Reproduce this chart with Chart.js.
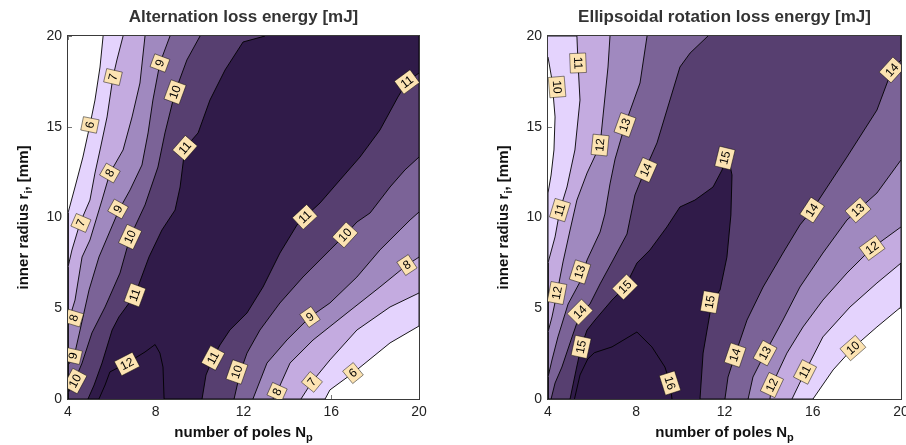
<!DOCTYPE html>
<html>
<head>
<meta charset="utf-8">
<script src="https://cdn.jsdelivr.net/npm/chart.js@4.4.1/dist/chart.umd.min.js"></script>
<style>
  body { margin: 0; background: #fff; width: 906px; height: 445px; overflow: hidden; }
  canvas { position: absolute; top: 0; }
  #altChart { left: 0; }
  #rotChart { left: 453px; }
</style>
</head>
<body>
<canvas id="altChart" width="453" height="445"></canvas>
<canvas id="rotChart" width="453" height="445"></canvas>
<script>
(() => {
  'use strict'

  const npTicks = [4, 8, 12, 16, 20]
  const riTicks = [0, 5, 10, 15, 20]
  const bandColors = ['#E4D3FD', '#C4ABE0', '#A089BF', '#7B6397', '#573F70', '#301B49', '#301B49']

  // Alternation loss energy: contour lines as [Np, ri] pairs
  // "a" = upper-left branch (top -> bottom), "b" = lower-right branch (right edge -> bottom)
  const altLevels = [6, 7, 8, 9, 10, 11, 12]
  const alt6a = [[5.60, 20], [5.46, 18.29], [5.23, 16.47], [5.00, 15.10], [4.68, 13.33], [4.32, 11.68], [4.00, 10.25]]
  const alt6b = [[20, 4.02], [18.68, 3.09], [16.99, 1.43], [15.94, 0.50], [15.72, 0]]
  const alt7a = [[6.51, 20], [6.23, 18.68], [6.05, 17.74], [5.78, 15.54], [5.46, 13.72], [5.23, 12.45], [5.00, 10.96], [4.55, 9.70], [4.18, 8.21], [4.00, 7.27]]
  const alt7b = [[20, 5.84], [18.68, 5.07], [17.17, 3.80], [15.94, 2.15], [15.12, 0.94], [14.62, 0]]
  const alt8a = [[7.51, 20], [7.28, 17.41], [6.92, 15.54], [6.51, 13.72], [5.91, 12.45], [5.55, 10.96], [5.00, 8.76], [4.64, 7.82], [4.32, 5.45], [4.00, 4.19]]
  const alt8b = [[20, 7.82], [19.45, 7.38], [18.22, 6.17], [16.72, 4.74], [15.17, 3.25], [14.12, 1.98], [13.53, 0.39], [13.34, 0]]
  const alt9a = [[8.65, 20], [8.19, 18.51], [7.87, 16.47], [7.65, 14.66], [7.37, 12.89], [6.83, 11.52], [6.32, 10.41], [5.41, 7.82], [4.96, 6.01], [4.55, 3.80], [4.27, 2.31], [4.00, 1.87]]
  const alt9b = [[20, 10.30], [19.59, 9.86], [18.22, 8.21], [17.17, 6.72], [15.94, 5.29], [15.03, 4.52], [13.98, 3.25], [13.07, 1.98], [12.43, 0]]
  const alt10a = [[10.02, 20], [9.42, 18.68], [8.88, 16.91], [8.42, 14.66], [8.10, 12.78], [7.51, 10.69], [6.83, 8.93], [6.37, 6.94], [5.69, 5.07], [5.09, 3.64], [4.64, 1.98], [4.32, 1.05], [4.00, 0.33]]
  const alt10b = [[20, 13.33], [19.36, 12.62], [18.68, 11.68], [17.77, 10.25], [17.17, 9.75], [16.63, 9.04], [15.94, 8.21], [14.71, 6.72], [13.66, 5.29], [12.75, 3.80], [12.16, 2.53], [11.84, 1.43], [11.57, 0]]
  const alt11a = [[12.98, 20], [11.98, 19.67], [11.16, 18.13], [10.47, 16.47], [9.93, 14.66], [9.33, 13.83], [9.11, 11.68], [8.88, 10.41], [8.28, 9.31], [7.69, 7.82], [7.05, 5.73], [6.32, 4.52], [6.01, 3.80], [5.55, 1.98], [5.19, 0.77], [4.91, 0]]
  const alt11b = [[20, 17.96], [19.45, 17.47], [19.04, 16.64], [18.22, 14.82], [17.31, 13.33], [16.40, 12.07], [15.49, 10.80], [14.80, 10.03], [14.44, 9.59], [13.66, 8.04], [12.89, 6.17], [12.16, 4.74], [11.38, 3.80], [10.93, 2.98], [10.61, 2.26], [10.29, 1.32], [10.11, 0]]
  const alt12a = [[5.41, 0], [5.69, 0.77], [5.91, 1.49], [6.69, 1.98], [7.51, 2.59], [7.97, 3.00], [8.19, 2.53], [8.33, 1.76], [8.38, 0]]
  // contour labels: [level, Np, ri]
  const altLabels = [
    [7, 6.05, 17.74], [9, 8.19, 18.51], [10, 8.88, 16.91], [6, 5.00, 15.10], [11, 9.33, 13.83],
    [8, 5.91, 12.45], [9, 6.28, 10.47], [7, 4.59, 9.70], [10, 6.83, 8.93], [11, 7.05, 5.73],
    [8, 4.27, 4.46], [9, 4.23, 2.37], [10, 4.32, 0.99], [12, 6.69, 1.93], [11, 19.45, 17.47],
    [11, 14.80, 10.03], [10, 16.63, 9.04], [8, 19.45, 7.38], [9, 15.03, 4.52], [11, 10.61, 2.26],
    [10, 11.70, 1.49], [6, 16.99, 1.43], [7, 15.12, 0.94], [8, 13.53, 0.39]
  ]

  // Ellipsoidal rotation loss energy
  const rotLevels = [10, 11, 12, 13, 14, 15, 16]
  const rot10a = [[4.00, 18.84], [4.18, 17.58], [4.32, 15.54], [4.27, 13.72], [4.14, 12.34], [4.00, 11.35]]
  const rot10b = [[20, 5.07], [18.91, 3.97], [17.82, 2.81], [16.92, 1.60], [16.01, 0]]
  const rot11a = [[5.31, 20], [5.36, 18.51], [5.45, 16.47], [5.22, 13.72], [4.86, 11.68], [4.54, 10.41], [4.32, 8.93], [4.00, 7.50]]
  const rot11b = [[20, 7.49], [18.91, 6.39], [17.69, 5.07], [16.46, 3.42], [15.65, 1.49], [15.06, 0]]
  const rot12a = [[6.81, 20], [6.72, 18.29], [6.49, 15.54], [6.36, 13.99], [5.77, 12.45], [5.31, 10.96], [5.00, 9.31], [4.68, 7.55], [4.41, 5.84], [4.18, 4.52], [4.00, 3.69]]
  const rot12b = [[20, 9.48], [18.69, 8.32], [17.55, 6.94], [16.46, 5.45], [15.56, 3.97], [14.83, 2.53], [14.15, 0.77], [14.06, 0]]
  const rot13a = [[8.49, 20], [8.17, 17.41], [7.49, 15.10], [7.04, 13.22], [6.81, 11.85], [6.58, 10.19], [6.36, 9.20], [5.77, 7.66], [5.45, 6.45], [4.91, 5.23], [4.45, 3.42], [4.18, 2.15], [4.00, 1.21]]
  const rot13b = [[20, 13.17], [18.91, 11.35], [18.05, 10.41], [17.55, 9.86], [16.46, 8.04], [15.42, 6.17], [14.65, 4.35], [13.84, 2.53], [13.29, 1.21], [13.07, 0]]
  const rot14a = [[11.25, 20], [10.44, 19.06], [9.98, 18.29], [9.39, 15.92], [8.94, 14.11], [8.40, 12.62], [7.94, 11.24], [7.58, 9.09], [6.95, 7.66], [6.36, 6.34], [5.90, 5.23], [5.45, 4.68], [5.09, 3.42], [4.63, 1.76], [4.32, 0.88], [4.14, 0]]
  const rot14b = [[20, 18.68], [19.59, 18.13], [18.91, 15.92], [17.55, 13.33], [15.97, 10.41], [15.42, 9.59], [14.65, 8.04], [13.75, 6.17], [13.02, 4.35], [12.48, 2.42], [12.16, 1.21], [12.02, 0]]
  const rot15a = [[5.00, 0], [5.15, 0.88], [5.30, 1.76], [5.50, 2.87], [5.77, 3.80], [6.13, 4.35], [6.90, 5.45], [7.49, 6.17], [8.03, 7.49], [8.62, 8.21], [9.39, 9.48], [9.98, 10.58], [10.66, 10.96], [11.48, 11.68], [11.89, 12.62], [12.11, 13.72], [12.34, 12.34], [12.29, 10.14], [12.11, 7.82], [11.80, 6.01], [11.43, 5.34], [11.21, 3.80], [11.03, 2.53], [10.89, 0]]
  const rot16a = [[5.20, 0], [5.45, 1.32], [5.80, 2.20], [6.10, 2.55], [6.90, 2.87], [8.03, 3.69], [8.71, 2.87], [9.30, 1.76], [9.53, 0.88], [9.62, 0]]
  const rotLabels = [
    [11, 5.36, 18.51], [10, 4.41, 17.19], [13, 7.49, 15.10], [12, 6.36, 13.99], [14, 8.44, 12.62],
    [11, 4.54, 10.41], [13, 5.45, 7.00], [12, 4.41, 5.84], [14, 5.45, 4.79], [15, 5.50, 2.87],
    [15, 7.49, 6.17], [15, 12.02, 13.28], [16, 9.53, 0.88], [14, 19.59, 18.13], [14, 15.97, 10.41],
    [13, 18.05, 10.41], [12, 18.69, 8.32], [15, 11.34, 5.34], [14, 12.48, 2.42], [13, 13.84, 2.53],
    [12, 14.15, 0.77], [11, 15.65, 1.49], [10, 17.82, 2.81]
  ]

  const npMin = npTicks[0], npMax = npTicks[npTicks.length - 1]
  const riMin = riTicks[0], riMax = riTicks[riTicks.length - 1]
  const FONT = '"Liberation Sans", Arial, Helvetica, sans-serif'
  Chart.defaults.font.family = FONT

  // closed region "value >= level" from its two contour branches and the plot edges
  function region(upper, lower) {
    if (!lower) return upper
    const pts = upper.slice()
    const end = upper[upper.length - 1]
    if (end[0] === npMin && end[1] > riMin) pts.push([npMin, riMin])
    return pts.concat(lower.slice().reverse(), [[npMax, riMax]])
  }

  const altRings = [
    region(alt6a, alt6b), region(alt7a, alt7b), region(alt8a, alt8b), region(alt9a, alt9b),
    region(alt10a, alt10b), region(alt11a, alt11b), region(alt12a)
  ]
  const altCurves = {6: [alt6a, alt6b], 7: [alt7a, alt7b], 8: [alt8a, alt8b], 9: [alt9a, alt9b], 10: [alt10a, alt10b], 11: [alt11a, alt11b], 12: [alt12a]}

  const rot10Ring = [[npMin, riMax], [npMax, riMax]].concat(rot10b, [[npMin, riMin]], rot10a.slice().reverse())
  const rotRings = [
    rot10Ring, region(rot11a, rot11b), region(rot12a, rot12b), region(rot13a, rot13b),
    region(rot14a, rot14b), region(rot15a), region(rot16a)
  ]
  const rotCurves = {10: [rot10a, rot10b], 11: [rot11a, rot11b], 12: [rot12a, rot12b], 13: [rot13a, rot13b], 14: [rot14a, rot14b], 15: [rot15a], 16: [rot16a]}

  function contourDatasets(rings, levels) {
    return rings.map((ring, i) => ({
      label: '>= ' + levels[i],
      data: ring.map(([np, ri]) => ({x: np, y: ri})),
      backgroundColor: bandColors[i],
      borderColor: '#000',
      borderWidth: 0.9,
      fill: 'shape',
      pointRadius: 0,
      tension: 0,
      order: rings.length - i
    }))
  }

  function segDist(px, py, x1, y1, x2, y2) {
    const dx = x2 - x1, dy = y2 - y1
    const len = dx * dx + dy * dy
    let t = len ? ((px - x1) * dx + (py - y1) * dy) / len : 0
    t = Math.max(0, Math.min(1, t))
    return Math.hypot(px - (x1 + t * dx), py - (y1 + t * dy))
  }

  // direction of the nearest contour segment, kept readable
  function labelAngle(curves, px, py, x, y) {
    let best = Infinity, ang = 0
    curves.forEach(c => {
      for (let i = 1; i < c.length; i++) {
        const x1 = x.getPixelForValue(c[i - 1][0]), y1 = y.getPixelForValue(c[i - 1][1])
        const x2 = x.getPixelForValue(c[i][0]), y2 = y.getPixelForValue(c[i][1])
        const d = segDist(px, py, x1, y1, x2, y2)
        if (d < best) { best = d; ang = Math.atan2(y2 - y1, x2 - x1) }
      }
    })
    while (ang > Math.PI / 2) ang -= Math.PI
    while (ang <= -Math.PI / 2) ang += Math.PI
    return ang
  }

  function drawRich(ctx, parts, x, y, rot) {
    ctx.save()
    ctx.translate(x, y)
    ctx.rotate(rot)
    ctx.fillStyle = '#111'
    ctx.textBaseline = 'alphabetic'
    ctx.textAlign = 'left'
    const fonts = parts.map(p => p[1] ? 'bold 11px ' + FONT : 'bold 15px ' + FONT)
    const widths = parts.map((p, i) => { ctx.font = fonts[i]; return ctx.measureText(p[0]).width })
    let cx = -widths.reduce((s, w) => s + w, 0) / 2
    parts.forEach((p, i) => {
      ctx.font = fonts[i]
      ctx.fillText(p[0], cx, p[1] ? 4 : 0)
      cx += widths[i]
    })
    ctx.restore()
  }

  function decor(labels, curves) {
    return {
      id: 'contourDecor',
      beforeDatasetsDraw(chart) {
        const {ctx, chartArea: a, scales: {x, y}} = chart
        ctx.save()
        ctx.strokeStyle = '#777'
        ctx.lineWidth = 1
        ctx.beginPath()
        npTicks.forEach(v => {
          const px = Math.round(x.getPixelForValue(v)) + 0.5
          ctx.moveTo(px, a.bottom); ctx.lineTo(px, a.bottom - 4)
          ctx.moveTo(px, a.top); ctx.lineTo(px, a.top + 4)
        })
        riTicks.forEach(v => {
          const py = Math.round(y.getPixelForValue(v)) + 0.5
          ctx.moveTo(a.left, py); ctx.lineTo(a.left + 4, py)
          ctx.moveTo(a.right, py); ctx.lineTo(a.right - 4, py)
        })
        ctx.stroke()
        ctx.restore()
      },
      afterDatasetsDraw(chart) {
        const {ctx, chartArea: a, scales: {x, y}} = chart
        // contour labels
        ctx.save()
        ctx.beginPath()
        ctx.rect(a.left, a.top, a.right - a.left, a.bottom - a.top)
        ctx.clip()
        ctx.font = '12px ' + FONT
        ctx.textAlign = 'center'
        ctx.textBaseline = 'middle'
        labels.forEach(([v, np, ri]) => {
          const px = x.getPixelForValue(np), py = y.getPixelForValue(ri)
          const ang = labelAngle(curves[v], px, py, x, y)
          const text = String(v)
          const w = ctx.measureText(text).width + 7, h = 16
          ctx.save()
          ctx.translate(px, py)
          ctx.rotate(ang)
          ctx.fillStyle = '#FCE3B2'
          ctx.fillRect(-w / 2, -h / 2, w, h)
          ctx.strokeStyle = 'rgba(0,0,0,0.55)'
          ctx.lineWidth = 0.8
          ctx.strokeRect(-w / 2, -h / 2, w, h)
          ctx.fillStyle = '#000'
          ctx.fillText(text, 0, 0.5)
          ctx.restore()
        })
        ctx.restore()
        // axes box
        ctx.save()
        ctx.strokeStyle = '#3a3a3a'
        ctx.lineWidth = 1
        ctx.strokeRect(Math.round(a.left) - 0.5, Math.round(a.top) - 0.5, Math.round(a.right - a.left) + 1, Math.round(a.bottom - a.top) + 1)
        ctx.restore()
        // axis titles with subscripts
        drawRich(ctx, [['number of poles N', false], ['p', true]], (a.left + a.right) / 2, 437, 0)
        drawRich(ctx, [['inner radius r', false], ['i', true], [', [mm]', false]], a.left - 40.5, (a.top + a.bottom) / 2, -Math.PI / 2)
      }
    }
  }

  function makeChart(id, title, rings, levels, labels, curves, padLeft, padRight) {
    return new Chart(document.getElementById(id), {
      type: 'line',
      data: {datasets: contourDatasets(rings, levels)},
      options: {
        responsive: false,
        animation: false,
        events: [],
        layout: {padding: {left: padLeft, right: padRight, top: 0, bottom: 0}},
        plugins: {
          legend: {display: false},
          tooltip: {enabled: false},
          title: {
            display: true,
            text: title,
            fullSize: false,
            color: '#333',
            font: {size: 17, weight: 'bold'},
            padding: {top: 7, bottom: 8.6}
          }
        },
        scales: {
          x: {
            type: 'linear',
            min: npMin,
            max: npMax,
            afterBuildTicks: s => { s.ticks = npTicks.map(value => ({value})) },
            grid: {display: false, drawTicks: false},
            border: {display: false},
            ticks: {color: '#222', font: {size: 14}, padding: 5, maxRotation: 0, autoSkip: false},
            afterFit: s => { s.height = 46; s.paddingLeft = 0; s.paddingRight = 0 }
          },
          y: {
            type: 'linear',
            min: riMin,
            max: riMax,
            afterBuildTicks: s => { s.ticks = riTicks.map(value => ({value})) },
            grid: {display: false, drawTicks: false},
            border: {display: false},
            ticks: {color: '#222', font: {size: 14}, padding: 6, autoSkip: false},
            afterFit: s => { s.width = 50; s.paddingTop = 0; s.paddingBottom = 0 }
          }
        }
      },
      plugins: [decor(labels, curves)]
    })
  }

  makeChart('altChart', 'Alternation loss energy [mJ]', altRings, altLevels, altLabels, altCurves, 18, 34)
  makeChart('rotChart', 'Ellipsoidal rotation loss energy [mJ]', rotRings, rotLevels, rotLabels, rotCurves, 45, 5)
})()
</script>
</body>
</html>
